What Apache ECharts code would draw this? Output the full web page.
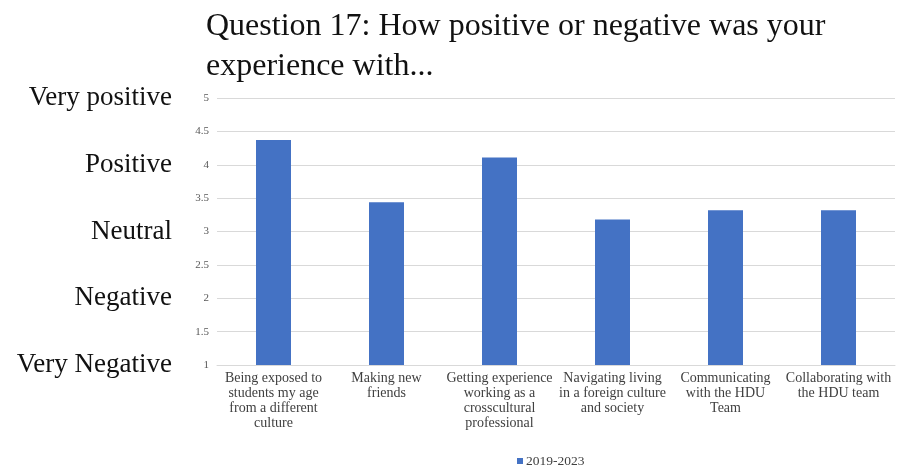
<!DOCTYPE html>
<html lang="en">
<head>
<meta charset="UTF-8">
<title>Question 17</title>
<script src="https://cdn.jsdelivr.net/npm/echarts@6/dist/echarts.min.js"></script>
<style>
body{margin:0;padding:0;background:#fff;}
#main{width:899px;height:467px;}
</style>
</head>
<body>
<div id="main"></div>
<script type="text/javascript">
var categories = [
    'Being exposed to\nstudents my age\nfrom a different\nculture',
    'Making new\nfriends',
    'Getting experience\nworking as a\ncrosscultural\nprofessional',
    'Navigating living\nin a foreign culture\nand society',
    'Communicating\nwith the HDU\nTeam',
    'Collaborating with\nthe HDU team'
];
var values2019 = [4.37, 3.44, 4.11, 3.18, 3.32, 3.32];
var scaleLabels = ['Very Negative', 'Negative', 'Neutral', 'Positive', 'Very positive'];
var seriesName = '2019-2023';

var serif = '"Liberation Serif", "Times New Roman", serif';
var myChart = echarts.init(document.getElementById('main'));

var option = {
    backgroundColor: '#fff',
    animation: false,
    title: {
        text: 'Question 17: How positive or negative was your\nexperience with...',
        left: 201,
        top: 2,
        textStyle: {
            fontFamily: serif,
            fontSize: 32,
            fontWeight: 'normal',
            color: '#111',
            lineHeight: 40
        }
    },
    legend: {
        top: 449,
        left: 512,
        itemWidth: 6,
        itemHeight: 6,
        itemGap: 4,
        icon: 'rect',
        data: [seriesName],
        textStyle: { fontFamily: serif, fontSize: 13.5, color: '#404040', padding: [0, 0, 0, -2] }
    },
    grid: { left: 217, right: 4, top: 98, bottom: 102 },
    xAxis: {
        type: 'category',
        data: categories,
        axisTick: { show: false },
        axisLine: { lineStyle: { color: '#d9d9d9' } },
        axisLabel: {
            interval: 0,
            margin: 6,
            fontFamily: serif,
            fontSize: 14,
            lineHeight: 15,
            color: '#404040'
        }
    },
    yAxis: [
        {
            type: 'value',
            min: 1,
            max: 5,
            interval: 0.5,
            axisLine: { show: false },
            axisTick: { show: false },
            splitLine: { lineStyle: { color: '#d9d9d9' } },
            axisLabel: {
                margin: 8,
                fontFamily: serif,
                fontSize: 11,
                color: '#595959'
            }
        },
        {
            type: 'value',
            position: 'left',
            min: 1,
            max: 5,
            interval: 1,
            axisLine: { show: false },
            axisTick: { show: false },
            splitLine: { show: false },
            axisLabel: {
                margin: 45,
                fontFamily: serif,
                fontSize: 27,
                color: '#111',
                formatter: function (v) { return scaleLabels[v - 1]; }
            }
        }
    ],
    series: [
        {
            name: seriesName,
            type: 'bar',
            barWidth: 35,
            itemStyle: { color: '#4472C4' },
            data: values2019
        }
    ]
};
myChart.setOption(option);
</script>
</body>
</html>
